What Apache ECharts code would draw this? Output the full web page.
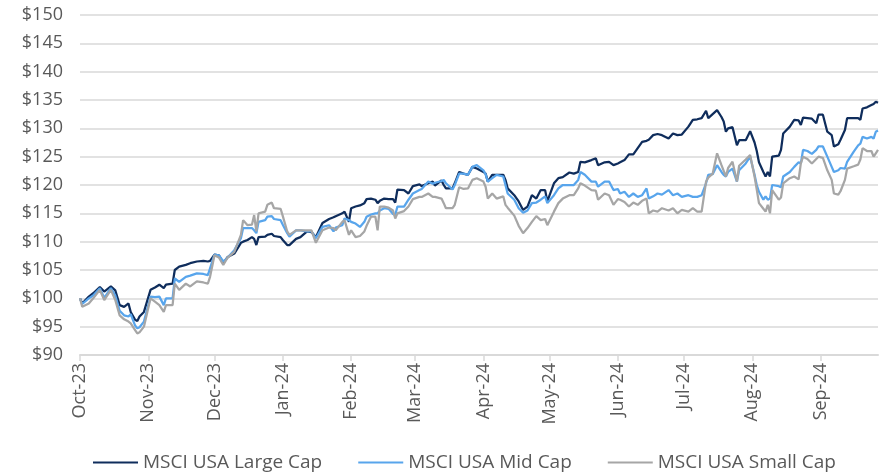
<!DOCTYPE html>
<html lang="en">
<head>
    <meta charset="UTF-8">
    <title>MSCI USA by size</title>
    <style type="text/css">
        *{
            margin: 0;
            padding: 0;
        }
        #main{
            width: 883px;
            height: 473px;
            background: #ffffff;
        }
    </style>
</head>
<body>
    <div id="main"></div>
    <script src="https://cdn.jsdelivr.net/npm/echarts@6/dist/echarts.min.js"></script>
    <script type="text/javascript">
        // dates of the samples
        var dates = [
            '2023-10-01','2023-10-02','2023-10-05','2023-10-07','2023-10-10','2023-10-12','2023-10-15','2023-10-17','2023-10-19','2023-10-21',
            '2023-10-23','2023-10-24','2023-10-26','2023-10-27','2023-10-28','2023-10-30','2023-11-02','2023-11-04','2023-11-06','2023-11-08',
            '2023-11-09','2023-11-12','2023-11-13','2023-11-15','2023-11-18','2023-11-20','2023-11-23','2023-11-26','2023-11-28','2023-11-29',
            '2023-12-01','2023-12-03','2023-12-05','2023-12-07','2023-12-10','2023-12-13','2023-12-14','2023-12-16','2023-12-18','2023-12-19',
            '2023-12-20','2023-12-21','2023-12-24','2023-12-25','2023-12-27','2023-12-28','2023-12-31','2024-01-01','2024-01-03','2024-01-04',
            '2024-01-07','2024-01-09','2024-01-12','2024-01-14','2024-01-16','2024-01-19','2024-01-22','2024-01-24','2024-01-25','2024-01-28',
            '2024-01-29','2024-01-31','2024-02-01','2024-02-03','2024-02-05','2024-02-07','2024-02-08','2024-02-10','2024-02-12','2024-02-13',
            '2024-02-14','2024-02-16','2024-02-18','2024-02-20','2024-02-21','2024-02-22','2024-02-25','2024-02-27','2024-02-29','2024-03-03',
            '2024-03-04','2024-03-07','2024-03-09','2024-03-10','2024-03-13','2024-03-14','2024-03-15','2024-03-18','2024-03-19','2024-03-21',
            '2024-03-23','2024-03-25','2024-03-27','2024-03-29','2024-04-01','2024-04-02','2024-04-03','2024-04-05','2024-04-07','2024-04-10',
            '2024-04-11','2024-04-12','2024-04-15','2024-04-17','2024-04-19','2024-04-21','2024-04-23','2024-04-25','2024-04-27','2024-04-29',
            '2024-04-30','2024-05-03','2024-05-05','2024-05-07','2024-05-10','2024-05-12','2024-05-14','2024-05-15','2024-05-17','2024-05-20',
            '2024-05-22','2024-05-23','2024-05-26','2024-05-28','2024-05-30','2024-06-01','2024-06-02','2024-06-04','2024-06-06','2024-06-08',
            '2024-06-10','2024-06-12','2024-06-14','2024-06-15','2024-06-17','2024-06-19','2024-06-21','2024-06-24','2024-06-26','2024-06-28',
            '2024-06-30','2024-07-03','2024-07-05','2024-07-07','2024-07-09','2024-07-11','2024-07-12','2024-07-14','2024-07-16','2024-07-18',
            '2024-07-19','2024-07-20','2024-07-21','2024-07-23','2024-07-25','2024-07-26','2024-07-29','2024-07-31','2024-08-02','2024-08-03',
            '2024-08-04','2024-08-06','2024-08-07','2024-08-08','2024-08-09','2024-08-10','2024-08-13','2024-08-14','2024-08-15','2024-08-18',
            '2024-08-20','2024-08-22','2024-08-23','2024-08-24','2024-08-26','2024-08-28','2024-08-30','2024-08-31','2024-09-02','2024-09-04',
            '2024-09-06','2024-09-07','2024-09-09','2024-09-10','2024-09-12','2024-09-13','2024-09-16','2024-09-18','2024-09-19','2024-09-20',
            '2024-09-22','2024-09-24','2024-09-25','2024-09-26','2024-09-27'
        ];

        var largeCap = [
            100, 99.1, 100.3, 100.9, 102.0, 101.2, 102.1, 101.4, 98.8, 98.5,
            99.1, 97.6, 96.2, 96.0, 96.8, 97.6, 101.5, 101.9, 102.4, 101.8,
            102.4, 102.6, 105.0, 105.6, 105.9, 106.2, 106.5, 106.6, 106.5, 106.6,
            107.7, 107.6, 106.2, 107.3, 107.9, 109.8, 110.0, 110.3, 110.8, 110.5,
            109.4, 110.8, 110.9, 111.2, 111.4, 111.0, 110.8, 110.3, 109.4, 109.4,
            110.5, 110.8, 111.8, 111.7, 110.8, 113.3, 114.0, 114.3, 114.5, 115.0,
            115.3, 113.5, 115.9, 116.2, 116.4, 116.8, 117.5, 117.6, 117.4, 116.8,
            117.2, 117.6, 117.5, 117.5, 116.9, 119.2, 119.1, 118.5, 119.8, 120.1,
            119.8, 120.3, 120.6, 119.9, 120.8, 120.0, 119.4, 119.4, 120.3, 122.3,
            122.0, 121.8, 123.2, 122.9, 122.3, 122.0, 120.6, 121.8, 121.8, 121.8,
            120.9, 119.4, 118.2, 117.1, 115.6, 116.2, 118.2, 117.6, 119.1, 119.1,
            117.1, 120.3, 121.2, 121.4, 122.2, 122.0, 122.3, 124.1, 124.0, 124.4,
            124.7, 123.5, 124.0, 124.1, 123.5, 123.8, 124.0, 124.4, 125.4, 125.4,
            126.5, 127.6, 127.8, 128.0, 128.8, 129.0, 128.8, 128.2, 129.1, 128.8,
            128.9, 130.3, 131.5, 131.6, 131.8, 133.1, 131.8, 132.5, 133.2, 132.0,
            131.2, 129.4, 130.0, 130.2, 127.0, 127.9, 127.9, 129.5, 127.5, 126.0,
            124.0, 122.3, 121.5, 122.3, 121.5, 125.0, 125.2, 126.2, 129.1, 130.3,
            131.5, 131.4, 130.6, 131.9, 131.8, 131.7, 130.9, 132.4, 132.4, 129.4,
            128.8, 126.8, 127.2, 128.0, 129.7, 131.8, 131.8, 131.8, 131.5, 133.5,
            133.7, 134.1, 134.3, 134.7, 134.5
        ];

        var midCap = [
            100, 99.0, 100.0, 100.5, 101.8, 100.1, 101.8, 100.5, 97.8, 97.0,
            96.8, 97.2, 95.2, 94.7, 94.9, 95.9, 100.3, 100.2, 100.3, 98.8,
            100.0, 100.0, 103.5, 102.9, 103.8, 104.0, 104.4, 104.3, 104.1, 105.3,
            107.7, 107.6, 106.5, 107.2, 108.5, 110.6, 112.4, 112.4, 112.4, 112.0,
            111.5, 113.5, 113.8, 114.4, 114.5, 114.0, 113.8, 113.0, 111.5, 110.9,
            112.0, 112.0, 111.8, 111.8, 110.6, 112.6, 112.9, 111.8, 112.5, 112.9,
            114.1, 113.8, 113.5, 113.2, 112.6, 113.5, 114.4, 114.8, 115.0, 115.0,
            115.5, 115.9, 115.8, 114.9, 114.7, 116.2, 116.2, 117.4, 118.5, 119.1,
            119.3, 120.6, 120.2, 120.4, 120.7, 120.9, 120.3, 119.2, 120.0, 122.0,
            122.0, 121.8, 123.2, 123.5, 122.6, 121.9, 120.6, 121.2, 121.8, 121.5,
            120.0, 118.5, 117.4, 115.9, 115.1, 115.5, 116.8, 116.9, 117.4, 118.0,
            116.8, 118.2, 119.4, 120.0, 120.0, 120.0, 120.9, 122.3, 121.8, 120.6,
            120.6, 119.7, 120.6, 120.6, 119.1, 119.3, 118.5, 118.8, 117.9, 118.5,
            117.9, 118.2, 119.4, 117.6, 118.0, 118.5, 118.3, 119.1, 118.2, 118.5,
            117.9, 118.2, 117.9, 117.9, 118.2, 120.3, 121.8, 121.9, 123.5, 122.3,
            121.8, 121.5, 122.3, 122.9, 120.6, 122.6, 123.8, 125.0, 121.8, 120.0,
            118.8, 117.4, 118.0, 117.4, 117.6, 120.0, 119.8, 119.6, 121.5, 122.3,
            123.2, 124.0, 123.8, 126.2, 126.0, 125.5, 126.2, 126.8, 126.8, 125.0,
            123.2, 122.3, 122.6, 123.0, 122.9, 124.1, 125.9, 127.0, 127.3, 128.5,
            128.2, 128.5, 128.2, 129.4, 129.6
        ];

        var smallCap = [
            100, 98.5, 99.1, 100.0, 101.5, 99.7, 101.5, 99.7, 97.0, 96.3,
            95.9, 95.6, 94.4, 93.8, 94.0, 95.0, 100.0, 99.4, 98.8, 97.6,
            98.8, 98.8, 102.6, 101.5, 102.6, 102.1, 103.0, 102.8, 102.6, 103.8,
            107.6, 107.2, 105.9, 107.2, 108.2, 111.2, 113.8, 112.9, 113.0, 114.7,
            111.8, 115.0, 115.3, 116.5, 116.9, 115.9, 115.8, 114.5, 111.8, 111.2,
            112.0, 112.0, 112.0, 112.0, 109.8, 112.0, 112.5, 112.4, 112.0, 113.5,
            113.8, 111.2, 112.0, 110.8, 111.0, 111.8, 112.8, 114.4, 114.4, 112.0,
            116.2, 116.2, 116.0, 115.5, 114.1, 115.0, 115.4, 116.2, 117.5, 117.9,
            117.9, 118.5, 117.9, 117.9, 117.6, 116.8, 115.9, 115.9, 116.5, 119.6,
            119.3, 119.4, 120.9, 121.2, 120.6, 119.7, 117.6, 118.5, 117.6, 118.0,
            116.5, 116.0, 114.6, 112.8, 111.5, 112.4, 113.5, 114.5, 113.8, 114.0,
            112.9, 115.3, 116.8, 117.6, 118.2, 118.2, 119.4, 120.3, 119.9, 119.1,
            119.0, 117.4, 118.5, 118.2, 116.5, 117.5, 117.4, 117.0, 116.2, 116.9,
            116.5, 117.2, 117.6, 115.0, 115.5, 115.3, 115.9, 115.5, 115.9, 115.0,
            115.6, 115.3, 115.9, 115.3, 115.3, 120.6, 121.3, 122.0, 125.6, 123.5,
            122.5, 121.5, 123.0, 124.1, 120.6, 123.4, 124.5, 125.3, 121.5, 119.2,
            116.8, 115.8, 115.3, 116.5, 115.0, 119.1, 117.4, 117.8, 120.3, 121.2,
            121.5, 121.0, 123.8, 125.0, 124.6, 123.8, 124.6, 125.0, 124.8, 122.6,
            120.9, 118.5, 118.3, 118.9, 120.9, 122.9, 123.3, 123.6, 124.5, 126.5,
            126.0, 126.0, 125.0, 125.6, 126.2
        ];

        var seriesNames = ['MSCI USA Large Cap', 'MSCI USA Mid Cap', 'MSCI USA Small Cap'];
        var seriesColors = ['#0f2d5c', '#58a5ec', '#a6a6a6'];
        var monthNames = ['Jan','Feb','Mar','Apr','May','Jun','Jul','Aug','Sep','Oct','Nov','Dec'];

        var textFont = '"Open Sans", "Noto Sans", sans-serif';

        function pairUp(values) {
            return dates.map(function (d, i) {
                return [d, values[i]];
            });
        }

        var myChart = echarts.init(document.getElementById('main'), null, {renderer: 'canvas'});

        var option = {
            animation: false,
            backgroundColor: '#ffffff',
            color: seriesColors,
            grid: {
                left: 80,
                right: 5,
                top: 15,
                bottom: 118
            },
            legend: {
                top: 448,
                left: 88,
                itemWidth: 45,
                itemHeight: 2,
                itemGap: 36,
                icon: 'rect',
                textStyle: {
                    color: '#595959',
                    fontSize: 19,
                    fontFamily: textFont
                },
                data: seriesNames
            },
            xAxis: {
                type: 'time',
                min: '2023-10-01',
                max: '2024-09-27',
                splitNumber: 12,
                minInterval: 28 * 24 * 3600 * 1000,
                axisLine: {
                    show: true,
                    lineStyle: {color: '#d9d9d9', width: 2}
                },
                axisTick: {
                    show: true,
                    length: 6,
                    lineStyle: {color: '#d9d9d9', width: 1.5}
                },
                splitLine: {show: false},
                axisLabel: {
                    rotate: 90,
                    margin: 8,
                    color: '#595959',
                    fontSize: 18,
                    fontFamily: textFont,
                    showMaxLabel: false,
                    formatter: function (value) {
                        var d = new Date(value);
                        if (d.getDate() !== 1) {
                            return '';
                        }
                        return monthNames[d.getMonth()] + '-' + String(d.getFullYear()).slice(2);
                    }
                }
            },
            yAxis: {
                type: 'value',
                min: 90,
                max: 150,
                interval: 5,
                axisLine: {show: false},
                axisTick: {show: false},
                splitLine: {
                    lineStyle: {color: '#d9d9d9', width: 1.5}
                },
                axisLabel: {
                    margin: 17,
                    color: '#595959',
                    fontSize: 18,
                    fontFamily: textFont,
                    formatter: function (v) {
                        return '$' + v;
                    }
                }
            },
            series: [
                {
                    name: seriesNames[0],
                    type: 'line',
                    showSymbol: false,
                    symbol: 'none',
                    lineStyle: {width: 2.25},
                    data: pairUp(largeCap)
                },
                {
                    name: seriesNames[1],
                    type: 'line',
                    showSymbol: false,
                    symbol: 'none',
                    lineStyle: {width: 2.25},
                    data: pairUp(midCap)
                },
                {
                    name: seriesNames[2],
                    type: 'line',
                    showSymbol: false,
                    symbol: 'none',
                    lineStyle: {width: 2.25},
                    data: pairUp(smallCap)
                }
            ]
        };

        myChart.setOption(option);
    </script>
</body>
</html>
